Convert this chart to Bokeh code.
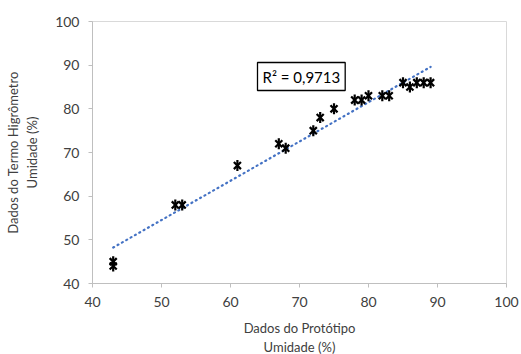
import numpy as np
from bokeh.plotting import figure
from bokeh.models import Range1d, FixedTicker, Label, ColumnDataSource
from bokeh.embed import file_html
from bokeh.resources import INLINE

# data
prototipo = [43, 43, 52, 53, 61, 67, 68, 72, 73, 75, 78, 79, 80, 82, 83, 85, 86, 87, 88, 89]
termo = [44, 45, 58, 58, 67, 72, 71, 75, 78, 80, 82, 82, 83, 83, 83, 86, 85, 86, 86, 86]
ticks = [40, 50, 60, 70, 80, 90, 100]
r2_text = "R\u00b2 = 0,9713"
x_title = "Dados do Prot\u00f3tipo\nUmidade (%)"
y_title = "Dados do Termo Higr\u00f4metro\nUmidade (%)"

FONT = "Lato"
AX = "#BFBFBF"
TXT = "#404040"

p = figure(width=521, height=354, output_backend="svg", toolbar_location=None,
           x_range=Range1d(40, 100), y_range=Range1d(40, 100),
           frame_width=414, frame_height=262,
           min_border_left=92, min_border_right=15, min_border_top=21, min_border_bottom=71)
p.background_fill_color = "white"
p.border_fill_color = "white"
p.outline_line_color = "#D9D9D9"
p.xgrid.visible = False
p.ygrid.visible = False

for ax in (p.xaxis[0], p.yaxis[0]):
    ax.ticker = FixedTicker(ticks=ticks)
    ax.axis_line_color = AX
    ax.major_tick_line_color = AX
    ax.minor_tick_line_color = None
    ax.major_tick_in = 0
    ax.major_tick_out = 4
    ax.major_label_text_font = FONT
    ax.major_label_text_font_size = "14px"
    ax.major_label_text_color = TXT
    ax.major_label_standoff = 9
    ax.axis_label_text_font = FONT
    ax.axis_label_text_font_size = "13px"
    ax.axis_label_text_font_style = "normal"
    ax.axis_label_text_color = TXT

p.xaxis[0].axis_label_standoff = 10
p.yaxis[0].axis_label_standoff = 12
p.xaxis.axis_label = x_title
p.yaxis.axis_label = y_title

# trendline (linear least squares)
coef = np.polyfit(prototipo, termo, 1)
xs = np.array([min(prototipo), max(prototipo)], dtype=float)
p.line(xs, np.polyval(coef, xs), line_color="#4472C4", line_width=2.2,
       line_dash="1 4", line_cap="round")

src = ColumnDataSource(dict(x=prototipo, y=termo))
p.scatter("x", "y", source=src, marker="x", size=10, line_color="black", line_width=2.2)
p.scatter("x", "y", source=src, marker="dash", angle=np.pi / 2, size=11,
          line_color="black", line_width=2.2)

lbl = Label(x=257 - 92, y=283 - 62, x_units="screen", y_units="screen", text=r2_text,
            text_font=FONT, text_font_size="15px", text_color="#000000",
            anchor="top_left", border_line_color="black", border_line_width=1.3,
            background_fill_color="white", padding=5)
p.add_layout(lbl)

open("out.html", "w").write(file_html(p, INLINE))
